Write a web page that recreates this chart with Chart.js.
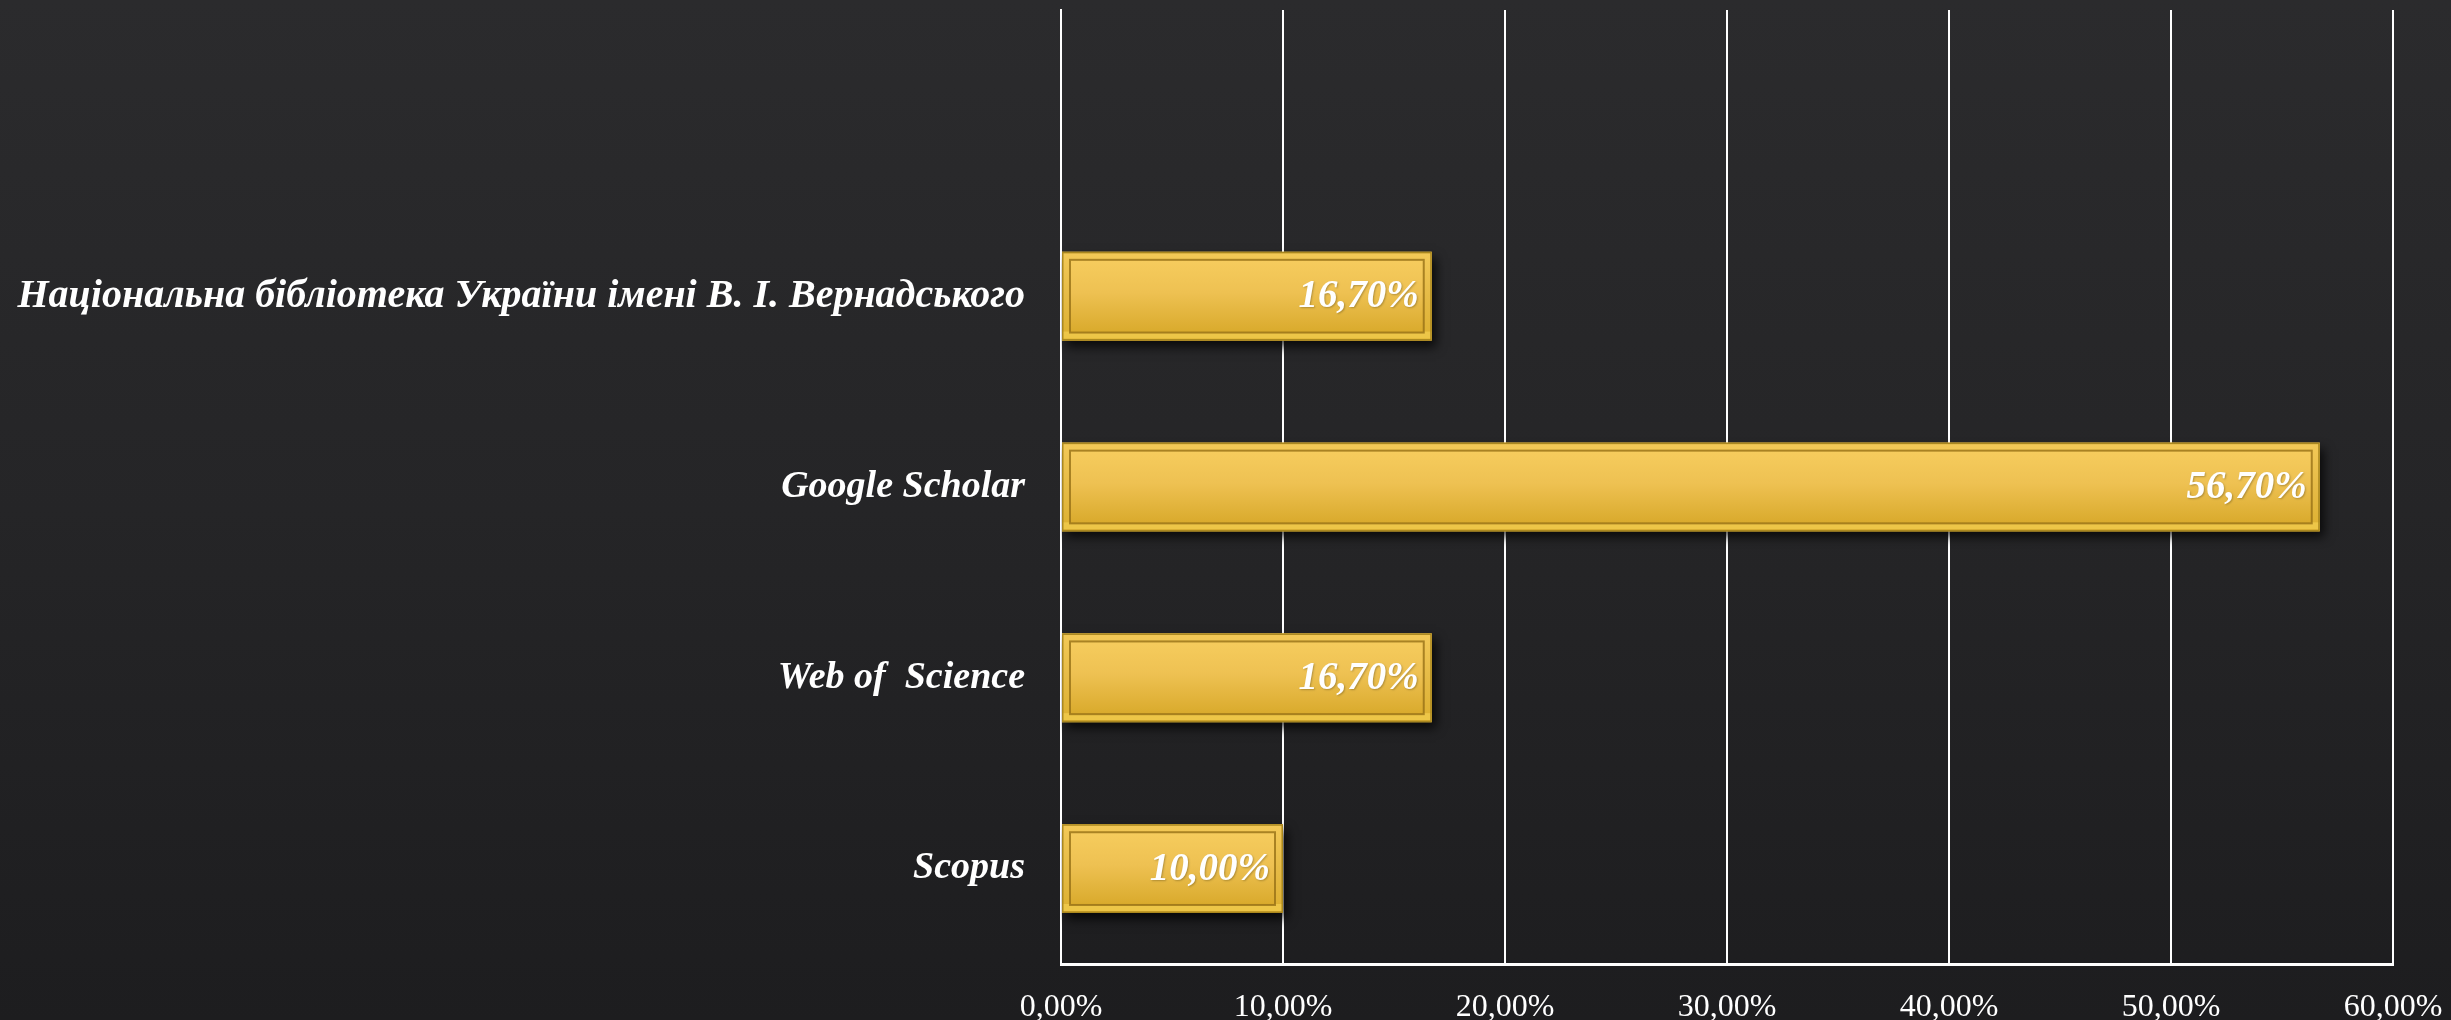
<!DOCTYPE html>
<html>
<head>
<meta charset="utf-8">
<script src="https://cdn.jsdelivr.net/npm/chart.js@4"></script>
<style>
  html, body { margin: 0; padding: 0; overflow: hidden; }
  body { width: 2451px; height: 1020px; background: linear-gradient(180deg, #2b2b2d 0%, #252527 50%, #1d1d1f 100%); }
  #wrap { width: 2451px; height: 1020px; position: relative; }
</style>
</head>
<body>
<div id="wrap"><canvas id="c"></canvas></div>
<script>
const categories = ['Національна бібліотека України імені В. І. Вернадського', 'Google Scholar', 'Web of  Science', 'Scopus'];
const shares = [16.7, 56.7, 16.7, 10.0];
const valueLabels = ['16,70%', '56,70%', '16,70%', '10,00%'];
const xTickLabels = ['0,00%', '10,00%', '20,00%', '30,00%', '40,00%', '50,00%', '60,00%'];

// empty leading slot (top) as in the original chart
const labels = [''].concat(categories);
const values = [null].concat(shares);
const texts = [''].concat(valueLabels);

const shadowPlugin = {
  id: 'barShadow',
  beforeDatasetsDraw(chart) {
    const ctx = chart.ctx;
    ctx.save();
    ctx.shadowColor = 'rgba(0,0,0,0.75)';
    ctx.shadowBlur = 10;
    ctx.shadowOffsetX = 4;
    ctx.shadowOffsetY = 6;
  },
  afterDatasetsDraw(chart) {
    const ctx = chart.ctx;
    ctx.restore();
    const meta = chart.getDatasetMeta(0);
    meta.data.forEach((el, i) => {
      if (values[i] === null || values[i] === undefined) return;
      const p = el.getProps(['x', 'y', 'base', 'height'], true);
      const left = Math.min(p.base, p.x), right = Math.max(p.base, p.x);
      const top = p.y - p.height / 2, bottom = p.y + p.height / 2;
      const w = right - left, h = bottom - top;
      ctx.save();
      // outer bevel fill
      let g = ctx.createLinearGradient(0, top, 0, bottom);
      g.addColorStop(0, '#f3c957');
      g.addColorStop(0.5, '#e6bb46');
      g.addColorStop(1, '#ddb030');
      ctx.fillStyle = g;
      ctx.fillRect(left, top, w, h);
      // bottom lighter edge
      ctx.fillStyle = 'rgba(250,215,90,0.55)';
      ctx.fillRect(left, bottom - 9, w, 7);
      // inner panel
      const ins = 8;
      g = ctx.createLinearGradient(0, top + ins, 0, bottom - ins);
      g.addColorStop(0, '#f6cc5d');
      g.addColorStop(0.45, '#eec152');
      g.addColorStop(1, '#d9aa2c');
      ctx.fillStyle = g;
      ctx.fillRect(left + ins, top + ins, w - 2 * ins, h - 2 * ins);
      ctx.strokeStyle = 'rgba(150,112,22,0.8)';
      ctx.lineWidth = 2;
      ctx.strokeRect(left + ins, top + ins, w - 2 * ins, h - 2 * ins);
      // outer border
      ctx.strokeStyle = '#a9871f';
      ctx.lineWidth = 1.5;
      ctx.strokeRect(left + 0.75, top + 0.75, w - 1.5, h - 1.5);
      // value label
      ctx.font = 'italic bold 39px "Liberation Serif"';
      ctx.fillStyle = '#ffffff';
      ctx.textAlign = 'right';
      ctx.textBaseline = 'middle';
      ctx.shadowColor = 'rgba(0,0,0,0.25)';
      ctx.shadowBlur = 2;
      ctx.shadowOffsetX = 1;
      ctx.shadowOffsetY = 1;
      ctx.fillText(texts[i], right - 13, p.y + 1);
      ctx.restore();
    });
  }
};

new Chart(document.getElementById('c'), {
  type: 'bar',
  data: {
    labels: labels,
    datasets: [{
      data: values,
      backgroundColor: '#e8bd48',
      borderWidth: 0,
      barPercentage: 0.465,
      categoryPercentage: 1.0
    }]
  },
  options: {
    indexAxis: 'y',
    responsive: true,
    maintainAspectRatio: false,
    animation: false,
    layout: { padding: { top: 10, right: 58, bottom: 0, left: 0 } },
    plugins: { legend: { display: false }, tooltip: { enabled: false } },
    scales: {
      x: {
        min: 0, max: 60,
        ticks: {
          stepSize: 10,
          color: '#ffffff',
          font: { family: '"Liberation Serif"', size: 32 },
          padding: 24,
          maxRotation: 0,
          callback: (v, i) => xTickLabels[i]
        },
        grid: { color: '#ffffff', lineWidth: 2, drawTicks: false },
        border: { display: true, color: '#ffffff', width: 3 },
        afterFit: (s) => { s.height = 56; s.paddingLeft = 0; s.paddingRight = 0; }
      },
      y: {
        ticks: {
          color: '#ffffff',
          font: (ctx) => ({ family: '"Liberation Serif"', size: ctx.index === 1 ? 40 : 38, style: 'italic', weight: 'bold' }),
          padding: 36
        },
        grid: { display: false, drawTicks: false },
        border: { display: true, color: '#ffffff', width: 2 },
        afterFit: (s) => { s.width = 1061; s.paddingTop = 0; s.paddingBottom = 0; }
      }
    }
  },
  plugins: [shadowPlugin]
});
</script>
</body>
</html>
